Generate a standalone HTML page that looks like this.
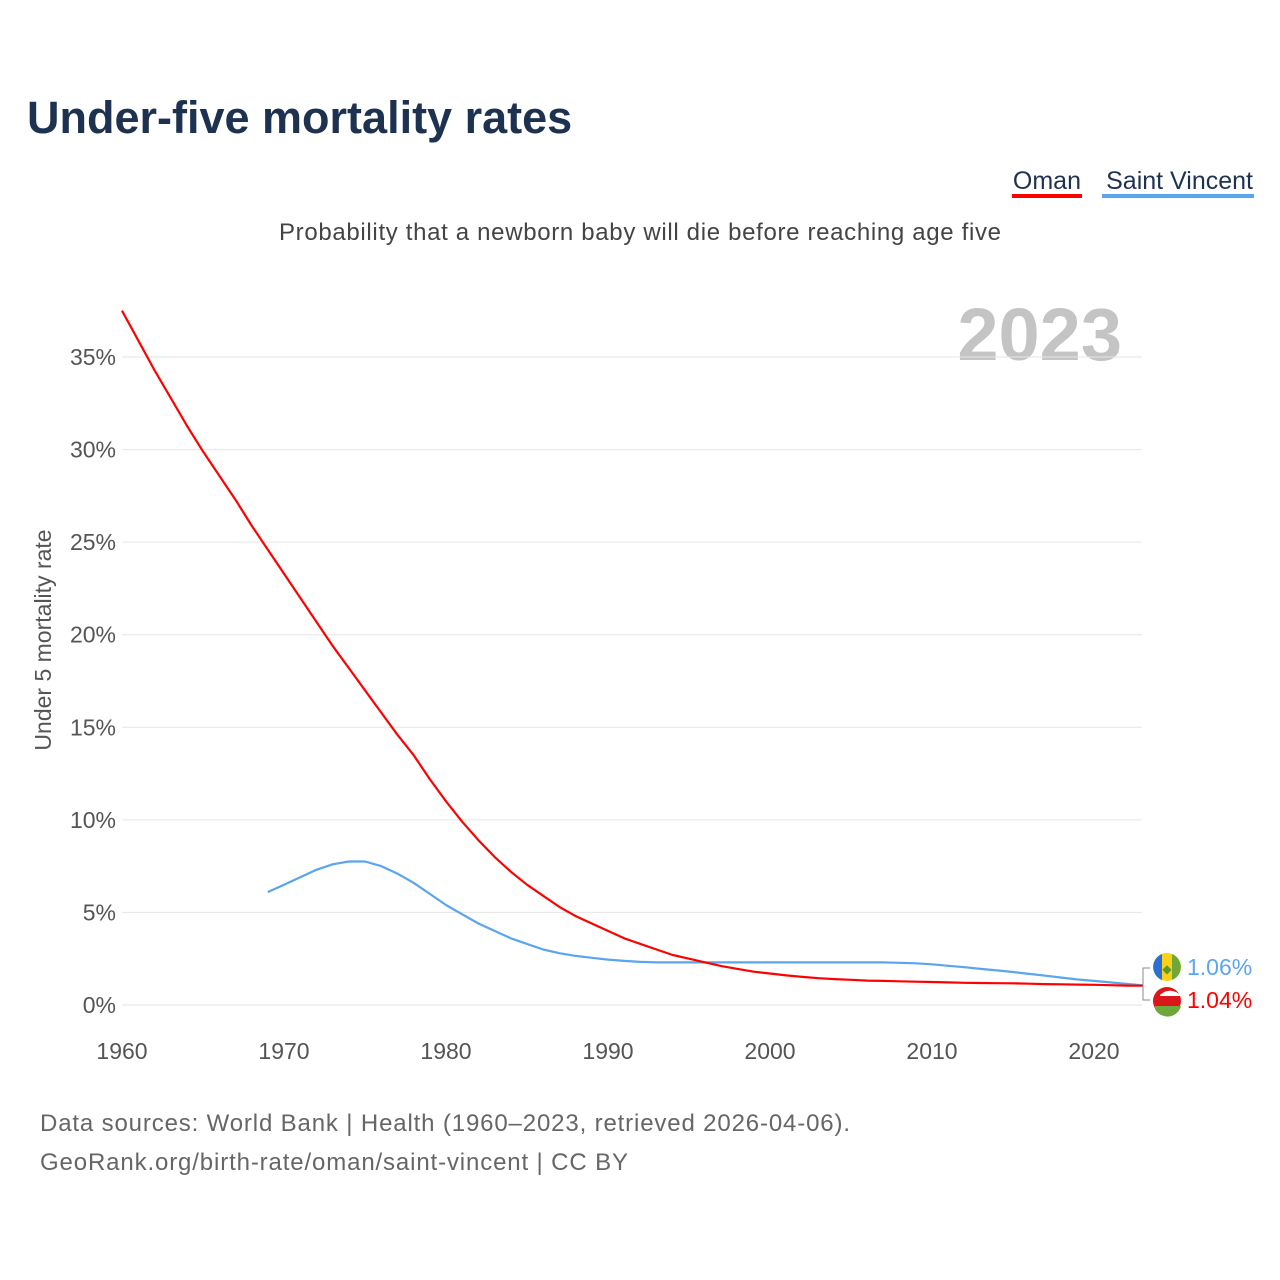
<!DOCTYPE html>
<html><head><meta charset="utf-8">
<style>
body{margin:0;background:#fff;font-family:"Liberation Sans",sans-serif;}
#wrap{position:relative;width:1280px;height:1280px;overflow:hidden;}
</style></head>
<body>
<div id="wrap">
<svg id="svg" width="1280" height="1280">
  <text x="27" y="133" font-size="45" font-weight="bold" fill="#1d3250">Under-five mortality rates</text>
  <g>
    <text x="1081" y="189" text-anchor="end" font-size="25" fill="#1d3250">Oman</text>
    <rect x="1012" y="194" width="70" height="4" fill="#ff0000"/>
  </g>
  <g>
    <text x="1253" y="189" text-anchor="end" font-size="25" fill="#1d3250">Saint Vincent</text>
    <rect x="1102" y="194" width="152" height="4" fill="#5aa5f0"/>
  </g>
  <text x="640" y="240" text-anchor="middle" font-size="24" fill="#444" textLength="722">Probability that a newborn baby will die before reaching age five</text>
  <text x="1122" y="360" text-anchor="end" font-size="74" font-weight="bold" fill="#c4c4c4">2023</text>
  <text transform="translate(51,640) rotate(-90)" text-anchor="middle" font-size="23" fill="#555">Under 5 mortality rate</text>
  <g id="grid"></g><g id="yt"></g><g id="xt"></g><g id="lines"></g>
  <g>
    <path d="M1143 985 L1143 968 L1150 968 M1143 985 L1143 1000 L1150 1000" stroke="#888" fill="none"/>
    <g>
      <circle cx="1167" cy="967" r="14" fill="#f8d118"/>
      <path d="M1162 954 A14 14 0 0 0 1162 980 Z" fill="#2a6fd6"/>
      <path d="M1172 954 A14 14 0 0 1 1172 980 Z" fill="#6fa83a"/>
      <text x="1167" y="973" text-anchor="middle" font-size="12" fill="#5a9a2a">◆</text>
    </g>
    <text x="1187" y="975" font-size="23" fill="#5aa5f0">1.06%</text>
    <g>
      <circle cx="1167" cy="1001" r="14" fill="#db161b"/>
      <path d="M1160 995 A14 14 0 0 1 1181 996 L1160 996 Z" fill="#fff"/>
      <path d="M1155 1006 L1181 1006 A14 14 0 0 1 1155 1009 Z" fill="#6fa83a"/>
    </g>
    <text x="1187" y="1008" font-size="23" fill="#ff0000">1.04%</text>
  </g>
  <text x="40" y="1131" font-size="24" fill="#666" textLength="810">Data sources: World Bank | Health (1960–2023, retrieved 2026-04-06).</text>
  <text x="40" y="1170" font-size="24" fill="#666" textLength="588">GeoRank.org/birth-rate/oman/saint-vincent | CC BY</text>
</svg>
</div>
<script>
const yTicks=[0,5,10,15,20,25,30,35];
const xTicks=[1960,1970,1980,1990,2000,2010,2020];
const omanStart=1960;
const omanValues=[37.5,35.9,34.3,32.8,31.3,29.9,28.6,27.3,25.9,24.6,23.3,22.0,20.7,19.4,18.2,17.0,15.8,14.6,13.5,12.2,11.0,9.9,8.9,8.0,7.2,6.5,5.9,5.3,4.8,4.4,4.0,3.6,3.3,3.0,2.7,2.5,2.3,2.1,1.95,1.8,1.7,1.6,1.52,1.45,1.4,1.36,1.32,1.3,1.28,1.26,1.24,1.22,1.2,1.19,1.18,1.17,1.15,1.13,1.12,1.1,1.09,1.07,1.05,1.04];
const svStart=1969;
const svValues=[6.1,6.5,6.9,7.3,7.6,7.75,7.75,7.5,7.1,6.6,6.0,5.4,4.9,4.4,4.0,3.6,3.3,3.0,2.8,2.65,2.55,2.45,2.38,2.33,2.3,2.3,2.3,2.3,2.3,2.3,2.3,2.3,2.3,2.3,2.3,2.3,2.3,2.3,2.3,2.28,2.25,2.2,2.12,2.04,1.95,1.87,1.78,1.68,1.58,1.48,1.38,1.3,1.22,1.14,1.06];
const NS="http://www.w3.org/2000/svg";
const X=y=>122+(y-1960)*16.2;
const Y=v=>1005-v*18.514;
function mk(t,a,p){const e=document.createElementNS(NS,t);for(const k in a)e.setAttribute(k,a[k]);p.appendChild(e);return e;}
const grid=document.getElementById('grid'),yt=document.getElementById('yt'),xt=document.getElementById('xt'),lines=document.getElementById('lines');
yTicks.forEach(v=>{
  const l=mk('line',{x1:122,x2:1142,y1:Y(v),y2:Y(v),stroke:'#e6e6e6','stroke-width':1},grid);
  
  
  const t=mk('text',{x:116,y:Y(v)+8,'text-anchor':'end','font-size':23,fill:'#555'},yt);
  t.textContent=v+'%';
  
  
});
xTicks.forEach(v=>{
  const t=mk('text',{x:X(v),y:1059,'text-anchor':'middle','font-size':23,fill:'#555'},xt);
  t.textContent=v;
  
  
});
function line(start,vals,color,name){
  const d=vals.map((v,i)=>(i?'L':'M')+X(start+i).toFixed(1)+' '+Y(v).toFixed(1)).join(' ');
  const p=mk('path',{d:d,fill:'none',stroke:color,'stroke-width':2.2,'stroke-linejoin':'round'},lines);
  
  
}
line(svStart,svValues,'#5aa5f0','line-saint-vincent');
line(omanStart,omanValues,'#ff0000','line-oman');
</script>
</body></html>
